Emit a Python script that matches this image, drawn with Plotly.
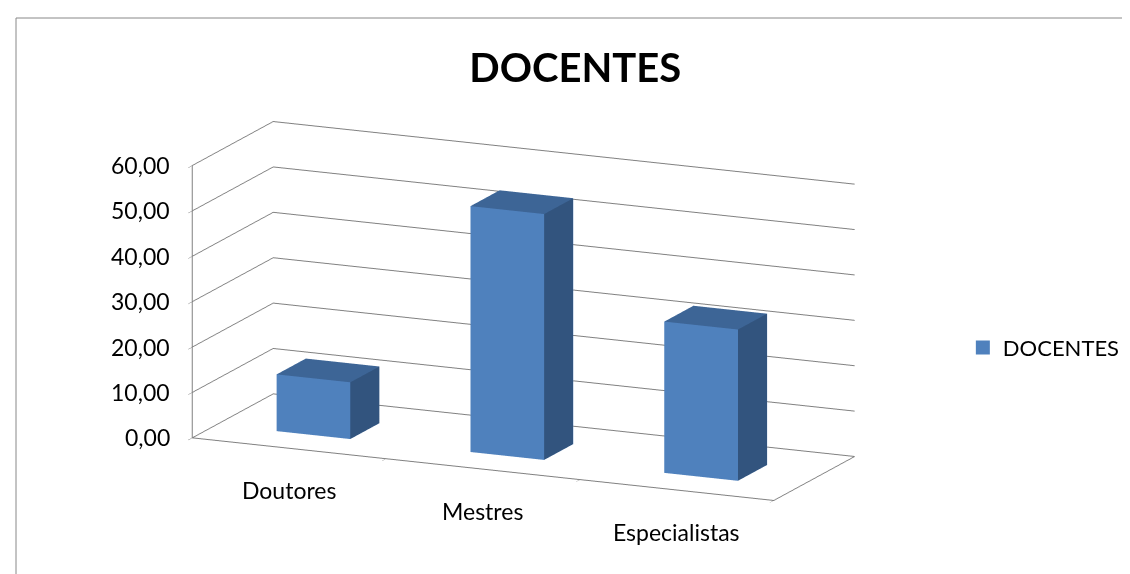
import math
import plotly.graph_objects as go

categories = ["Doutores", "Mestres", "Especialistas"]
values = [12.50, 54.17, 33.33]
series_name = "DOCENTES"
z_ticks = [0, 10, 20, 30, 40, 50, 60]
z_tick_labels = ["0,00", "10,00", "20,00", "30,00", "40,00", "50,00", "60,00"]

FRONT = "#4F81BD"
TOP = "#3D6596"
SIDE = "#32547E"
GRID = "#808080"

fig = go.Figure()

half_w = 0.19
y0, y1 = 0.30, 0.66
for i, (cat, v) in enumerate(zip(categories, values)):
    x0, x1 = i - half_w, i + half_w
    xs = [x0, x1, x1, x0, x0, x1, x1, x0]
    ys = [y0, y0, y1, y1, y0, y0, y1, y1]
    zs = [0, 0, 0, 0, v, v, v, v]
    I = [0, 0, 3, 3, 0, 0, 1, 1, 0, 0, 4, 4]
    J = [1, 5, 2, 6, 3, 7, 2, 6, 1, 2, 5, 6]
    K = [5, 4, 6, 7, 7, 4, 6, 5, 2, 3, 6, 7]
    fc = [FRONT, FRONT, FRONT, FRONT, FRONT, FRONT, SIDE, SIDE, FRONT, FRONT, TOP, TOP]
    fig.add_trace(go.Mesh3d(
        x=xs, y=ys, z=zs, i=I, j=J, k=K, facecolor=fc, flatshading=True,
        lighting=dict(ambient=1, diffuse=0, specular=0, roughness=1, fresnel=0),
        showlegend=False, hoverinfo="skip", name=cat,
    ))

fig.add_trace(go.Scatter3d(
    x=[None], y=[None], z=[None], mode="markers", name=series_name,
    marker=dict(symbol="square", size=14, color=FRONT), showlegend=True,
))

# tick labels as horizontal scene annotations
annotations = []
for t, lab in zip(z_ticks, z_tick_labels):
    annotations.append(dict(x=-0.5, y=0, z=t, text=lab, showarrow=False,
                            xanchor="right", yanchor="middle", xshift=-20,
                            font=dict(size=23, color="#000000")))
for i, cat in enumerate(categories):
    annotations.append(dict(x=i, y=0, z=0, text=cat, showarrow=False,
                            xanchor="center", yanchor="middle", xshift=0, yshift=-42,
                            font=dict(size=23, color="#000000")))

phi = math.radians(24)
eps = math.radians(14)
r = 2.0
eye = dict(x=r * math.sin(phi) * math.cos(eps), y=-r * math.cos(phi) * math.cos(eps),
           z=r * math.sin(eps))

axis_common = dict(showspikes=False, backgroundcolor="white", showbackground=False,
                   zeroline=False, title=dict(text=""), showticklabels=False)
fig.update_layout(
    width=1130, height=574,
    paper_bgcolor="white",
    margin=dict(l=0, r=0, t=0, b=0),
    font=dict(family="Lato, Carlito, sans-serif", color="#000000", size=22),
    title=dict(text="<b>DOCENTES</b>", x=0.502, xanchor="center", y=0.895, yanchor="middle",
               font=dict(size=40, family="Lato, sans-serif", color="#000000")),
    scene=dict(
        domain=dict(x=[0.131, 0.781], y=[0.088, 0.858]),
        xaxis=dict(range=[-0.5, 2.5], tickvals=[-0.5, 0.5, 1.5, 2.5],
                   showgrid=False, showline=True, linecolor=GRID, linewidth=2,
                   ticks="outside", tickcolor=GRID, ticklen=8, **axis_common),
        yaxis=dict(range=[0, 1], showgrid=False, showline=True,
                   linecolor=GRID, linewidth=2, ticks="", **axis_common),
        zaxis=dict(range=[0, 60], tickvals=z_ticks,
                   showgrid=True, gridcolor=GRID, gridwidth=2, showline=True,
                   linecolor=GRID, linewidth=2, ticks="outside", tickcolor=GRID, ticklen=8,
                   **axis_common),
        aspectmode="manual", aspectratio=dict(x=2.88, y=0.9, z=1.27),
        camera=dict(eye=eye, center=dict(x=0, y=0, z=0),
                    projection=dict(type="orthographic")),
        annotations=annotations,
    ),
    legend=dict(x=0.845, y=0.408, xanchor="left", yanchor="middle", font=dict(size=22),
                bgcolor="rgba(0,0,0,0)"),
    shapes=[dict(type="rect", xref="paper", yref="paper", x0=8/1130, x1=1.01,
                 y0=-0.02, y1=1 - 10/574, line=dict(color="#888888", width=1))],
)

fig.write_html("out.html")
